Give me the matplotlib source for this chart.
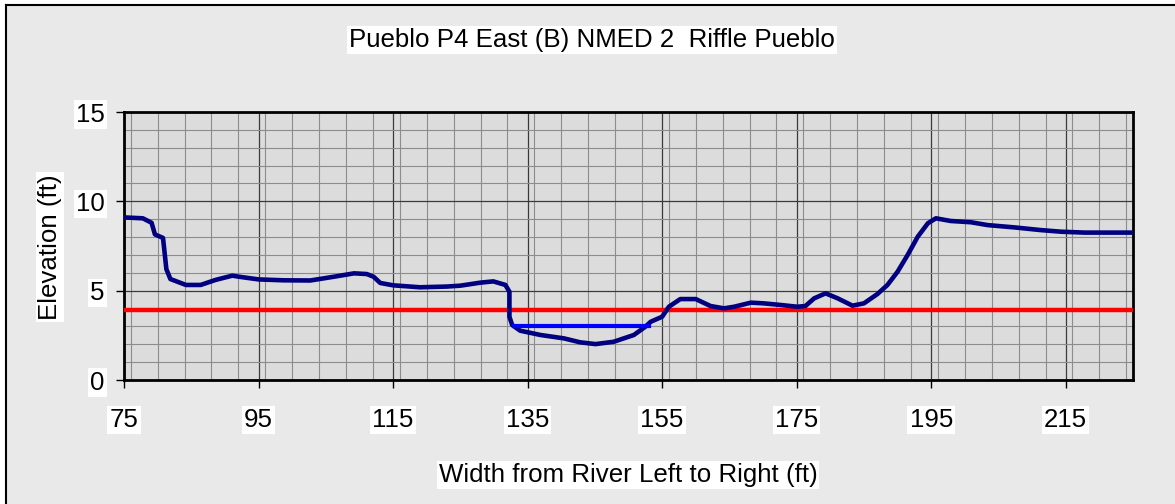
import matplotlib
matplotlib.use('Agg')
import matplotlib.pyplot as plt
from matplotlib.patches import Rectangle
from matplotlib.ticker import MultipleLocator

# -------------------------- 数据--------------------------
title = 'Pueblo P4 East (B) NMED 2  Riffle Pueblo'
x_label = 'Width from River Left to Right (ft)'
y_label = 'Elevation (ft)'

# 河道断面（深蓝线）
station = [75.0, 77.8, 79.1, 79.6, 80.8, 81.3, 81.9, 84.2, 86.4, 88.6, 91.1, 92.1, 95.0,
           98.7, 102.7, 106.2, 109.2, 111.1, 112.1, 113.1, 115.0, 119.0, 123.0, 125.0,
           128.0, 129.9, 131.7, 132.3, 132.3, 132.7, 133.9, 136.9, 140.4, 142.8, 145.1,
           147.8, 150.8, 152.5, 153.3, 155.0, 156.0, 157.7, 160.0, 162.2, 164.2, 165.7,
           168.2, 170.1, 172.6, 175.1, 176.3, 177.6, 179.3, 181.1, 183.3, 185.0, 187.0,
           188.5, 190.0, 191.5, 193.0, 194.5, 195.7, 197.9, 200.9, 203.4, 207.4, 211.3,
           214.3, 217.8, 225.0]
elevation = [9.1, 9.05, 8.8, 8.15, 7.95, 6.2, 5.65, 5.32, 5.32, 5.6, 5.84, 5.78, 5.63,
             5.58, 5.57, 5.78, 5.97, 5.93, 5.78, 5.43, 5.3, 5.19, 5.23, 5.28,
             5.45, 5.52, 5.32, 4.94, 3.54, 3.08, 2.76, 2.52, 2.33, 2.11, 2.01,
             2.14, 2.52, 2.98, 3.26, 3.54, 4.1, 4.53, 4.53, 4.14, 4.01, 4.1,
             4.33, 4.29, 4.2, 4.1, 4.14, 4.57, 4.85, 4.57, 4.16, 4.29, 4.81,
             5.32, 6.06, 7.0, 8.02, 8.77, 9.05, 8.9, 8.83, 8.67, 8.54, 8.39,
             8.3, 8.25, 8.25]

# 水面线（蓝）
water_x = [133.0, 153.0]
water_y = [3.0, 3.0]

# 红色水平线
red_x = [75.0, 225.0]
red_y = [3.9, 3.9]

x_ticks = [75, 95, 115, 135, 155, 175, 195, 215]
y_ticks = [0, 5, 10, 15]

# -------------------------- 绘图 --------------------------
plt.rcParams['font.family'] = ['Liberation Sans', 'DejaVu Sans']

W, H = 1175, 504
FS = 18.6
fig = plt.figure(figsize=(W / 100, H / 100), dpi=100, facecolor='white')

# 图表区灰底 + 上、左黑边
fig.add_artist(Rectangle((6 / W, 0), 1, 1 - 5 / H, transform=fig.transFigure,
                         facecolor='#e9e9e9', edgecolor='none', zorder=-10))
fig.add_artist(plt.Line2D([6 / W, 1], [1 - 5 / H, 1 - 5 / H], color='black', lw=1.5,
                          transform=fig.transFigure, zorder=-5))
fig.add_artist(plt.Line2D([6 / W, 6 / W], [0, 1 - 5 / H], color='black', lw=1.5,
                          transform=fig.transFigure, zorder=-5))

ax = fig.add_axes([124 / W, 1 - 380 / H, (1133 - 124) / W, (380 - 112) / H])
ax.set_facecolor('#dcdcdc')

ax.plot(red_x, red_y, color='#ff0000', lw=3.2, zorder=3)
ax.plot(station, elevation, color='#000080', lw=3.3, solid_joinstyle='round',
        solid_capstyle='round', zorder=4)
ax.plot(water_x, water_y, color='#0000ff', lw=3.0, zorder=5)

ax.set_xlim(75, 225)
ax.set_ylim(0, 15)
ax.set_xticks(x_ticks)
ax.set_yticks(y_ticks)
ax.xaxis.set_minor_locator(MultipleLocator(4))
ax.yaxis.set_minor_locator(MultipleLocator(1))

ax.grid(which='minor', color='#8c8c8c', lw=0.8, zorder=1)
ax.grid(which='major', color='#3a3a3a', lw=0.9, zorder=2)
ax.set_axisbelow(True)

for s in ax.spines.values():
    s.set_linewidth(2)
    s.set_color('black')

ax.tick_params(which='major', direction='out', length=6, width=1, color='black',
               labelsize=FS)
ax.tick_params(which='minor', length=0)
ax.tick_params(axis='x', pad=14)
ax.tick_params(axis='y', pad=8)

box = dict(facecolor='white', edgecolor='none', pad=1.5)
for lab in ax.get_xticklabels() + ax.get_yticklabels():
    lab.set_bbox(box)

fig.text(592 / W, 1 - 40 / H, title, fontsize=FS, ha='center', va='center', bbox=box)
fig.text(628 / W, 1 - 475 / H, x_label, fontsize=FS, ha='center', va='center', bbox=box)
fig.text(50 / W, 1 - 247 / H, y_label, fontsize=FS, ha='center', va='center',
         rotation=90, bbox=box)

fig.savefig('out.png', dpi=100, facecolor='white')
